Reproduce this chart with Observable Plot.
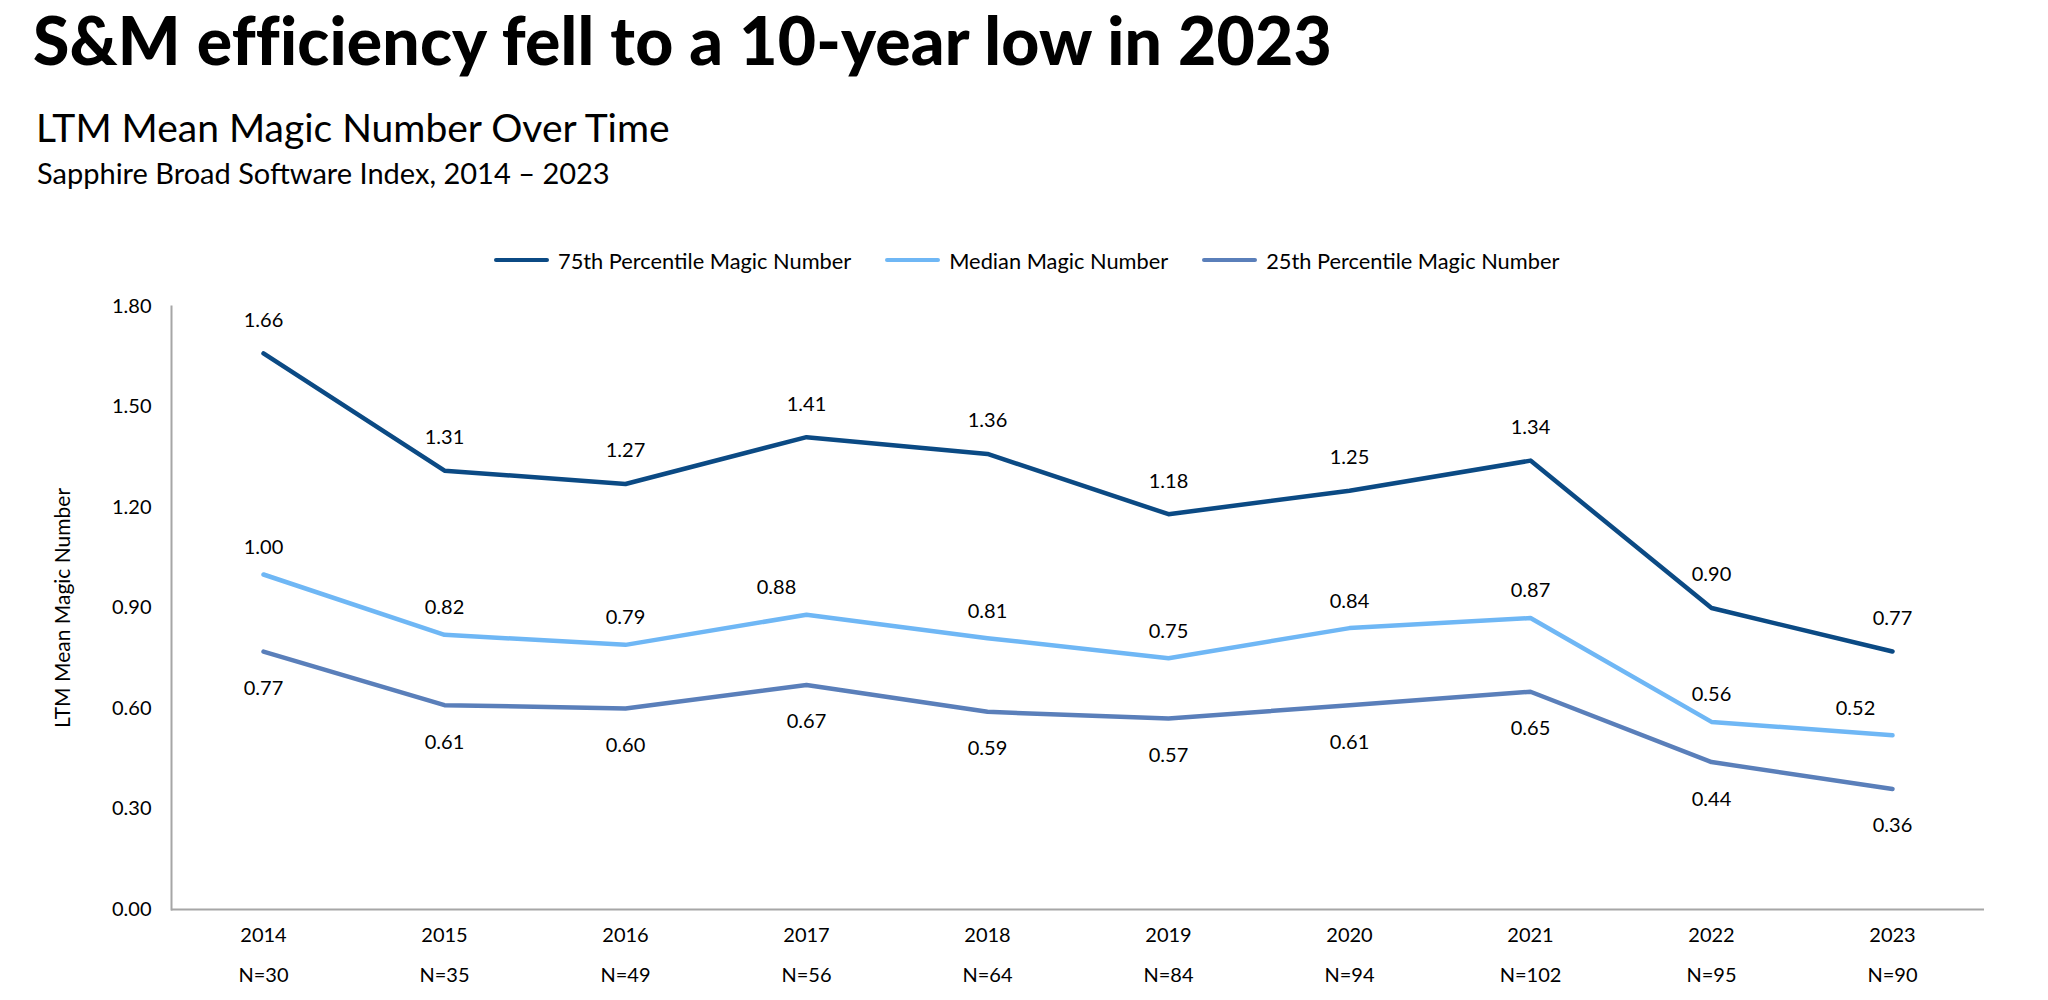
<!DOCTYPE html>
<html>
<head>
<meta charset="utf-8">
<script src="https://cdn.jsdelivr.net/npm/d3@7"></script>
<script src="https://cdn.jsdelivr.net/npm/@observablehq/plot@0.6"></script>
<style>
  html, body { margin: 0; padding: 0; background: #fff; }
  body { width: 2048px; height: 1000px; position: relative; overflow: hidden; font-family: Lato, "Noto Sans", sans-serif; color: #000; }
  .abs { position: absolute; white-space: nowrap; }
  #title { left: 33px; top: 7px; font-size: 66px; line-height: 66px; font-weight: 900; letter-spacing: 0.2px; }
  #sub1 { left: 36px; top: 108px; font-size: 39px; line-height: 39px; font-weight: 400; }
  #sub2 { left: 37px; top: 158px; font-size: 29px; line-height: 29px; font-weight: 400; }
  #legend { left: 494px; top: 248px; height: 24px; display: flex; align-items: center; font-size: 21.8px; }
  .item { display: flex; align-items: center; margin-right: 34px; }
  .sw { width: 55px; height: 4px; border-radius: 2px; margin-right: 9px; }
  #chart { left: 0; top: 290px; }
</style>
</head>
<body>
<div id="title" class="abs">S&amp;M efficiency fell to a 10-year low in 2023</div>
<div id="sub1" class="abs">LTM Mean Magic Number Over Time</div>
<div id="sub2" class="abs">Sapphire Broad Software Index, 2014 – 2023</div>
<div id="legend" class="abs"></div>
<div id="chart" class="abs"></div>
<script>
const years = ["2014","2015","2016","2017","2018","2019","2020","2021","2022","2023"];
const sampleSizes = [30, 35, 49, 56, 64, 84, 94, 102, 95, 90];
const seriesNames = ["75th Percentile Magic Number", "Median Magic Number", "25th Percentile Magic Number"];
const p75 = [1.66, 1.31, 1.27, 1.41, 1.36, 1.18, 1.25, 1.34, 0.90, 0.77];
const median = [1.00, 0.82, 0.79, 0.88, 0.81, 0.75, 0.84, 0.87, 0.56, 0.52];
const p25 = [0.77, 0.61, 0.60, 0.67, 0.59, 0.57, 0.61, 0.65, 0.44, 0.36];
const yTicks = [0, 0.3, 0.6, 0.9, 1.2, 1.5, 1.8];
const yLabel = "LTM Mean Magic Number";
const colors = ["#0b4a84", "#6fb7f5", "#5a7fba"];

const seriesValues = [p75, median, p25];
const rows = [];
seriesValues.forEach((vals, si) => {
  vals.forEach((v, i) => rows.push({series: seriesNames[si], year: years[i], value: v}));
});
const nByYear = new Map(years.map((y, i) => [y, sampleSizes[i]]));

// legend
const legend = document.getElementById("legend");
seriesNames.forEach((name, i) => {
  const it = document.createElement("div");
  it.className = "item";
  it.innerHTML = `<div class="sw" style="background:${colors[i]}"></div><span>${name}</span>`;
  legend.appendChild(it);
});

// label nudges for crowded labels, as in the original chart
const nudge = (d) => (d.series === seriesNames[1] && d.year === "2017") ? -30
                   : (d.series === seriesNames[1] && d.year === "2023") ? -37 : 0;

function labels(si, dy) {
  const data = rows.filter(d => d.series === seriesNames[si]);
  const groups = d3.group(data, nudge);
  return Array.from(groups, ([dx, ds]) => Plot.text(ds, {
    x: "year", y: "value", text: d => d.value.toFixed(2), dy, dx, fontSize: 20, fill: "#000"
  }));
}

const chart = Plot.plot({
  width: 2048,
  height: 710,
  marginLeft: 171,
  marginRight: 64,
  marginTop: 16,
  marginBottom: 91,
  style: {fontFamily: "Lato, 'Noto Sans', sans-serif", fontSize: "20px", color: "#000", background: "transparent"},
  x: {type: "point", domain: years, padding: 0.5},
  y: {domain: [0, 1.8]},
  color: {domain: seriesNames, range: colors},
  marks: [
    Plot.axisY({ticks: yTicks, tickFormat: d => d.toFixed(2), tickSize: 0, tickPadding: 20, fontSize: 20, label: null}),
    Plot.axisY({ticks: [], tickSize: 0, fontSize: 22, label: yLabel, labelArrow: "none", labelAnchor: "center", labelOffset: 116}),
    Plot.axisX({tickSize: 0, tickPadding: 18, fontSize: 20, label: null}),
    Plot.axisX({tickSize: 0, tickPadding: 58, fontSize: 20, label: null, tickFormat: y => `N=${nByYear.get(y)}`}),
    Plot.frame({anchor: "left", stroke: "#a6a6a6", strokeWidth: 2}),
    Plot.ruleY([0], {stroke: "#a6a6a6", strokeWidth: 2}),
    Plot.line(rows, {x: "year", y: "value", z: "series", stroke: "series", strokeWidth: 4.5, strokeLinejoin: "round", strokeLinecap: "round"}),
    ...labels(0, -33),
    ...labels(1, -27),
    ...labels(2, 37)
  ]
});
document.getElementById("chart").appendChild(chart);
// make sure the axis title has no arrow
chart.querySelectorAll("text").forEach(t => {
  if (t.textContent.startsWith(yLabel)) { t.textContent = yLabel; t.setAttribute("font-size", "21"); }
});
</script>
</body>
</html>
